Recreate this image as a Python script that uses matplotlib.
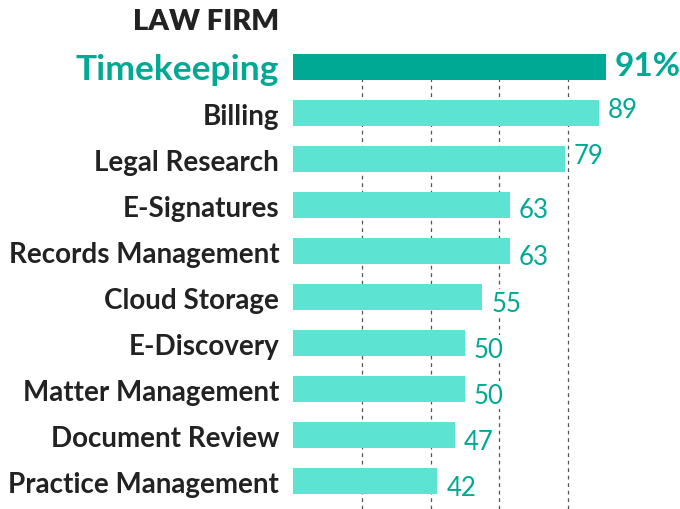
import matplotlib
matplotlib.use('Agg')
import matplotlib.pyplot as plt

categories = ['Timekeeping', 'Billing', 'Legal Research', 'E-Signatures',
              'Records Management', 'Cloud Storage', 'E-Discovery',
              'Matter Management', 'Document Review', 'Practice Management']
values = [91, 89, 79, 63, 63, 55, 50, 50, 47, 42]
gridlines = [20, 40, 60, 80]
title = 'LAW FIRM'

# vertical nudge of each value label, in pixels (down is positive)
label_dy = [-2, -3, -4, 4, 5.5, 6, 6, 6, 7, 7]

dark_teal = '#00A994'
light_teal = '#5CE3D1'
text_dark = '#222222'

plt.rcParams['font.family'] = ['Lato', 'DejaVu Sans']

fig = plt.figure(figsize=(6.8, 5.1), dpi=100)
ax = fig.add_axes([293 / 680, 0, (680 - 293) / 680, (510 - 54) / 510])

pos = list(range(len(categories)))
colors = [dark_teal] + [light_teal] * (len(categories) - 1)
ax.barh(pos, values, height=0.57, color=colors, zorder=2)

for g in gridlines:
    ax.axvline(g, color='#555555', linestyle=(0, (3, 3)), linewidth=0.9, zorder=1)

cat_dy = 3 / 46
for i, (cat, v) in enumerate(zip(categories, values)):
    dy = label_dy[i] / 46
    if i == 0:
        ax.text(-4.0, i + 2 / 46, cat, ha='right', va='center', fontsize=25.5,
                fontweight='bold', color=dark_teal)
        ax.text(v + 2.6, i + dy, f'{v}%', ha='left', va='center', fontsize=24,
                fontweight='bold', color=dark_teal,
                bbox=dict(facecolor='white', edgecolor='none', pad=1))
    else:
        ax.text(-4.0, i + cat_dy, cat, ha='right', va='center', fontsize=20,
                fontweight='bold', color=text_dark)
        ax.text(v + 2.6, i + dy, str(v), ha='left', va='center', fontsize=18.5,
                color=dark_teal,
                bbox=dict(facecolor='white', edgecolor='none', pad=1))

ax.text(-4.0, -1.0, title, ha='right', va='center', fontsize=21,
        fontweight='heavy', color=text_dark)

ax.set_xlim(0, (680 - 293) / 3.44)
ax.set_ylim((510 - 68) / 46, -14 / 46)
ax.axis('off')

fig.savefig('out.png', dpi=100)
